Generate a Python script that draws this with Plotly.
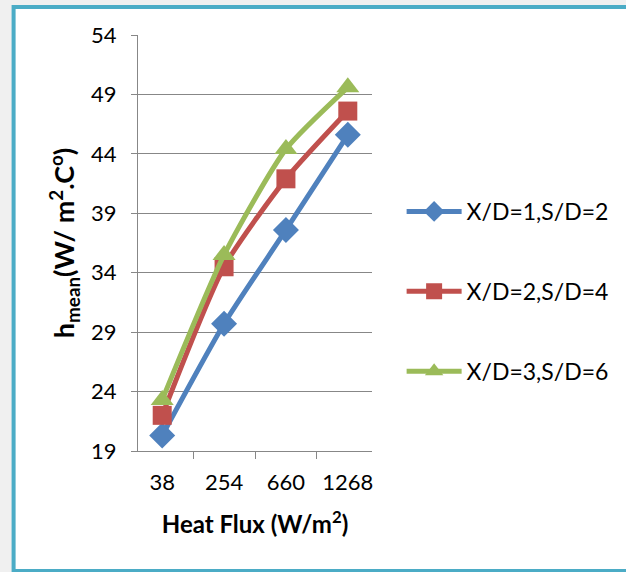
import plotly.graph_objects as go

# Heat flux categories (W/m²)
heat_flux = ["38", "254", "660", "1268"]

# Mean heat transfer coefficient for each configuration
h_xd1_sd2 = [20.3, 29.7, 37.6, 45.6]
h_xd2_sd4 = [22.0, 34.5, 41.9, 47.6]
h_xd3_sd6 = [23.3, 35.5, 44.4, 49.6]

series_names = ["X/D=1,S/D=2", "X/D=2,S/D=4", "X/D=3,S/D=6"]
series_values = [h_xd1_sd2, h_xd2_sd4, h_xd3_sd6]
series_colors = ["#4f81bd", "#c0504d", "#9bbb59"]
series_symbols = ["diamond", "square", "triangle-up"]
marker_sizes = [20, 19, 20]

y_ticks = [19, 24, 29, 34, 39, 44, 49, 54]

FONT = "Lato"
GRID = "#878787"

fig = go.Figure()
for i, (name, vals, col, sym, ms) in enumerate(
        zip(series_names, series_values, series_colors, series_symbols, marker_sizes)):
    fig.add_trace(go.Scatter(
        x=heat_flux, y=vals, name=name, mode="lines+markers",
        line=dict(color=col, width=5, shape="spline", smoothing=0.6),
        marker=dict(symbol=sym, size=ms, color=col),
        legendgroup=f"g{i}",
    ))

# Plot area: x 138..375 px, y 35..451 px
L, T, R, B = 138, 35, 375, 451
W, H = 626, 572
pw, ph = R - L, B - T

def px_to_paper_x(px):
    return (px - L) / pw

def px_to_paper_y(py):
    return (B - py) / ph

# Outer frame of the chart
fig.add_shape(
    type="rect", xref="paper", yref="paper", layer="below",
    x0=px_to_paper_x(12), x1=px_to_paper_x(700),
    y0=px_to_paper_y(571), y1=px_to_paper_y(7),
    line=dict(color="#4bacc6", width=4), fillcolor="white",
)

fig.update_layout(
    width=W, height=H,
    margin=dict(l=L, r=W - R, t=T, b=H - B, pad=0),
    paper_bgcolor="#f0f0f0", plot_bgcolor="rgba(0,0,0,0)",
    font=dict(family=FONT, color="black", size=22),
    showlegend=True,
    legend=dict(
        x=px_to_paper_x(405), y=px_to_paper_y(190), xanchor="left", yanchor="top",
        font=dict(size=23, family=FONT), tracegroupgap=47,
        bgcolor="rgba(0,0,0,0)", itemwidth=55,
    ),
)

fig.update_xaxes(
    type="category", tickson="boundaries", ticks="outside", ticklen=7,
    tickcolor=GRID, tickwidth=1.3, showline=True, linecolor=GRID, linewidth=1.3,
    showgrid=False, ticklabelstandoff=11,
    tickfont=dict(size=22, family=FONT),
    title=dict(text="<b>Heat Flux (W/m<sup>2</sup>)</b>", font=dict(size=24, family=FONT),
               standoff=22),
)

fig.update_yaxes(
    range=[19, 54], tickvals=y_ticks, ticktext=[str(v) for v in y_ticks],
    ticks="outside", ticklen=6, tickcolor=GRID, tickwidth=1.3,
    showline=True, linecolor=GRID, linewidth=1.3,
    showgrid=True, gridcolor=GRID, gridwidth=1.3, zeroline=False,
    ticklabelstandoff=10,
    tickfont=dict(size=22, family=FONT),
    title=dict(text="<b>h<sub>mean</sub>(W/ m<sup>2</sup>.C<sup>o</sup>)</b>",
               font=dict(size=27, family=FONT), standoff=8),
)

fig.write_html("out.html")
